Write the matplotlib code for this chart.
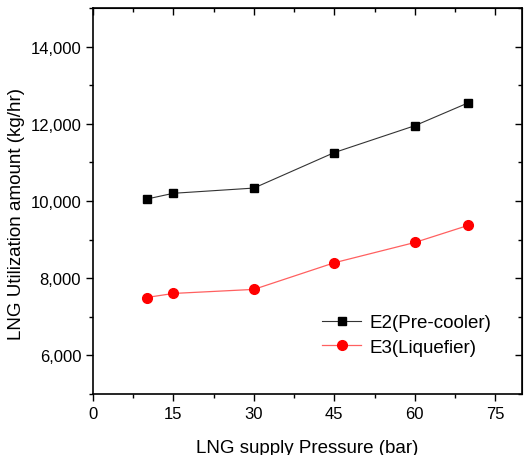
import matplotlib
matplotlib.use("Agg")
import matplotlib.pyplot as plt
from matplotlib.ticker import MultipleLocator, FuncFormatter

plt.rcParams['font.family'] = ['Liberation Sans', 'DejaVu Sans']

# data
pressure = [10, 15, 30, 45, 60, 70]
e2_precooler = [10050, 10200, 10335, 11255, 11950, 12545]
e3_liquefier = [7500, 7605, 7710, 8400, 8925, 9370]

fig = plt.figure(figsize=(5.30, 4.56), dpi=100)
ax = fig.add_axes([93 / 530, 1 - 395 / 456, (522 - 93) / 530, (395 - 9) / 456])

ax.plot(pressure, e2_precooler, color='#333333', lw=0.8, marker='s', ms=6,
        mfc='black', mec='black', label='E2(Pre-cooler)')
ax.plot(pressure, e3_liquefier, color='#ff6060', lw=0.9, marker='o', ms=7,
        mfc='red', mec='red', label='E3(Liquefier)')

ax.set_xlim(0, 80)
ax.set_ylim(5000, 15000)
ax.xaxis.set_major_locator(MultipleLocator(15))
ax.xaxis.set_minor_locator(MultipleLocator(7.5))
ax.yaxis.set_major_locator(MultipleLocator(2000))
ax.yaxis.set_minor_locator(MultipleLocator(1000))
ax.yaxis.set_major_formatter(FuncFormatter(lambda v, p: f"{int(v):,}"))

ax.tick_params(which='both', direction='out', top=False, right=False, labelsize=12)
ax.tick_params(which='major', length=5, width=1)
ax.tick_params(which='minor', length=3, width=1)
for sp in ax.spines.values():
    sp.set_linewidth(1.2)

# inward ticks on top and right
ax2 = ax.secondary_xaxis('top')
ax2.xaxis.set_major_locator(MultipleLocator(15))
ax2.xaxis.set_minor_locator(MultipleLocator(7.5))
ax2.tick_params(which='both', direction='in', labeltop=False)
ax2.tick_params(which='major', length=5, width=1)
ax2.tick_params(which='minor', length=3, width=1)
ax3 = ax.secondary_yaxis('right')
ax3.yaxis.set_major_locator(MultipleLocator(2000))
ax3.yaxis.set_minor_locator(MultipleLocator(1000))
ax3.tick_params(which='both', direction='in', labelright=False)
ax3.tick_params(which='major', length=5, width=1)
ax3.tick_params(which='minor', length=3, width=1)

ax.set_xlabel('LNG supply Pressure (bar)', fontsize=13.5, labelpad=13)
ax.set_ylabel('LNG Utilization amount (kg/hr)', fontsize=13.5)
ax.yaxis.set_label_coords((25 - 93) / 429, (395 - 214.5) / 386)

ax.legend(loc='upper left', bbox_to_anchor=(322 / 530, 1 - 315 / 456),
          bbox_transform=fig.transFigure, frameon=False, borderpad=0,
          borderaxespad=0, fontsize=13.5, handlelength=2.1,
          handletextpad=0.45, labelspacing=0.4)

fig.savefig('out.png', dpi=100)
